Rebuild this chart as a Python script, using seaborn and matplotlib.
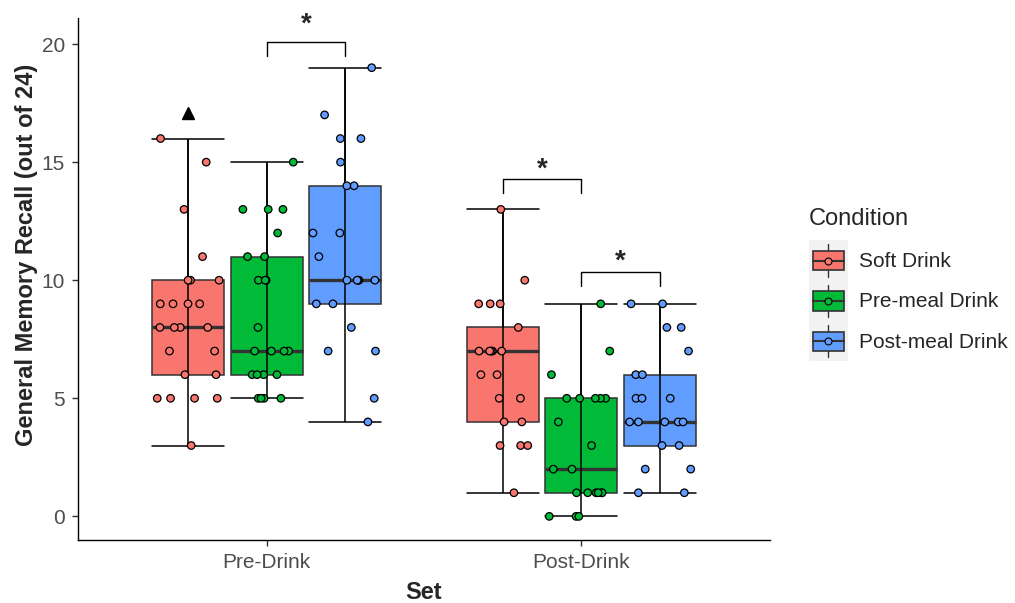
import numpy as np
import pandas as pd
import seaborn as sns
import matplotlib.pyplot as plt
from matplotlib.patches import Rectangle, Patch
from matplotlib.lines import Line2D
from matplotlib.legend_handler import HandlerBase

# data
sets = ['Pre-Drink', 'Post-Drink']
conditions = ['Soft Drink', 'Pre-meal Drink', 'Post-meal Drink']
colors = ['#F8766D', '#00BA38', '#619CFF']

pre_soft = [16, 15, 13, 11, 10, 10, 10, 9, 9, 9, 9, 8, 8, 8, 8, 7, 7, 6, 6, 5, 5, 5, 5, 3]
pre_premeal = [15, 13, 13, 13, 12, 11, 11, 10, 10, 10, 8, 7, 7, 7, 7, 6, 6, 6, 6, 5, 5, 5, 5]
pre_postmeal = [19, 17, 16, 16, 15, 14, 14, 12, 12, 11, 10, 10, 10, 10, 10, 9, 9, 8, 7, 7, 5, 4]
post_soft = [13, 10, 9, 9, 9, 8, 7, 7, 7, 7, 7, 6, 6, 5, 5, 4, 4, 3, 3, 3, 1]
post_premeal = [9, 7, 6, 5, 5, 5, 5, 5, 4, 3, 2, 2, 1, 1, 1, 1, 1, 1, 0, 0, 0]
post_postmeal = [9, 9, 8, 8, 7, 6, 6, 5, 5, 5, 4, 4, 4, 4, 4, 3, 3, 2, 2, 1, 1]

# significance brackets: (set index, condition a, condition b, bracket height, star height)
brackets = [(0, 1, 2, 20.1, 20.83), (1, 0, 1, 14.3, 14.7), (1, 1, 2, 10.35, 10.8)]
triangle_value = 17.1

rows = []
groups = [[pre_soft, pre_premeal, pre_postmeal], [post_soft, post_premeal, post_postmeal]]
for s, grp in zip(sets, groups):
    for c, vals in zip(conditions, grp):
        rows += [(s, c, v) for v in vals]
df = pd.DataFrame(rows, columns=['Set', 'Condition', 'Recall'])


class BoxKey(HandlerBase):
    # ggplot style boxplot legend key
    def create_artists(self, legend, orig, xd, yd, w, h, fontsize, trans):
        x0, y0 = -xd, -yd
        cx, cy = x0 + w / 2, y0 + h / 2
        fc = orig.get_facecolor()
        bg = Rectangle((x0, y0), w, h, facecolor='#F2F2F2', edgecolor='none', transform=trans)
        stem = Line2D([cx, cx], [y0 + 0.1 * h, y0 + 0.9 * h], color='#333333', lw=1, transform=trans)
        box = Rectangle((x0 + 0.1 * w, y0 + 0.26 * h), 0.8 * w, 0.48 * h, facecolor=fc,
                        edgecolor='#333333', lw=1.2, transform=trans)
        med = Line2D([x0 + 0.1 * w, x0 + 0.9 * w], [cy, cy], color='#333333', lw=1.5, transform=trans)
        dot = Line2D([cx], [cy], marker='o', ms=5, mfc=fc, mec='black', mew=0.8, ls='none', transform=trans)
        return [bg, stem, box, med, dot]


sns.set_style('ticks')
plt.rcParams['font.family'] = ['Liberation Sans', 'DejaVu Sans']

fig, ax = plt.subplots(figsize=(10.15, 6.03), dpi=100)
fig.subplots_adjust(left=0.0768, right=0.7586, top=0.970, bottom=0.1045)

step = 0.25
sns.boxplot(data=df, x='Set', y='Recall', hue='Condition', order=sets, hue_order=conditions,
            palette=colors, saturation=1, width=3 * step, gap=0.085, linecolor='#333333',
            linewidth=1.1, showfliers=False, medianprops={'linewidth': 2.4}, legend=False, ax=ax)

# errorbar style whiskers: one line through the box, caps as wide as the box
for cont in ax.containers:
    if not hasattr(cont, 'whiskers'):
        continue
    for i, box in enumerate(cont.boxes):
        xs = box.get_path().vertices[:, 0]
        lo, hi = cont.whiskers[2 * i], cont.whiskers[2 * i + 1]
        lo.set_ydata([lo.get_ydata()[1], hi.get_ydata()[1]])
        for ln in (lo, hi):
            ln.set_color('black')
            ln.set_zorder(2.6)
        for cap in cont.caps[2 * i:2 * i + 2]:
            cap.set_xdata([xs.min(), xs.max()])
            cap.set_color('black')
            cap.set_zorder(2.6)
        box.set_zorder(2)
    for m in cont.medians:
        m.set_zorder(2.5)

np.random.seed(7)
sns.stripplot(data=df, x='Set', y='Recall', hue='Condition', order=sets, hue_order=conditions,
              palette=colors, dodge=True, jitter=0.33, size=5.4, linewidth=0.9, edgecolor='black',
              legend=False, ax=ax, zorder=3)
# pull the dodged points in line with the boxes
for coll in ax.collections:
    off = coll.get_offsets()
    if len(off):
        c = np.round(off[:, 0])
        off[:, 0] = c + (off[:, 0] - c) * (3 * step) / 0.8
        coll.set_offsets(off)

# significance annotations
for s, a, b, yb, ys in brackets:
    x1 = s + (a - 1) * step
    x2 = s + (b - 1) * step
    ax.plot([x1, x1, x2, x2], [yb - 0.6, yb, yb, yb - 0.6], color='black', lw=1)
    ax.text((x1 + x2) / 2, ys, '*', ha='center', va='center', fontsize=20, fontweight='bold')
ax.plot([-step], [triangle_value], marker='^', color='black', ms=8, ls='none')

ax.set_xlim(-0.6, 1.6)
ax.set_ylim(-1.0, 21.1)
ax.set_yticks([0, 5, 10, 15, 20])
sns.despine(ax=ax)
for sp in ('left', 'bottom'):
    ax.spines[sp].set_linewidth(1.0)
    ax.spines[sp].set_color('black')
ax.tick_params(length=4, width=1, color='#333333', labelsize=15, labelcolor='#4D4D4D')
ax.tick_params(axis='x', pad=5.5)
ax.tick_params(axis='y', pad=5.3)
ax.set_xlabel('Set', fontsize=17, fontweight='bold', labelpad=6)
ax.set_ylabel('General Memory Recall (out of 24)', fontsize=17, fontweight='bold')
ax.yaxis.set_label_coords(-0.058, 0.546)

handles = [Patch(facecolor=c) for c in colors]
leg = ax.legend(handles, conditions, title='Condition', loc='upper left', bbox_to_anchor=(0.797, 0.655),
                bbox_transform=fig.transFigure, frameon=False, fontsize=15, title_fontsize=17,
                handler_map={Patch: BoxKey()}, handlelength=1.87, handleheight=2.6, labelspacing=0,
                handletextpad=0.55, borderpad=0, borderaxespad=0, alignment='left')
# small gap between the legend title and the keys
leg._legend_box.sep = 7.5

fig.savefig('out.png', dpi=100)
